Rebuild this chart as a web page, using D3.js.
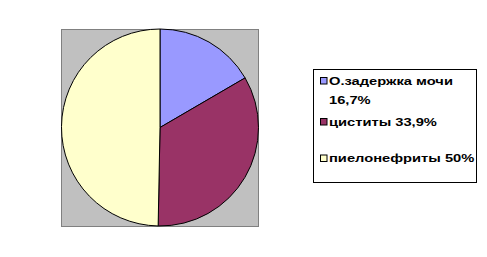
<!DOCTYPE html>
<html><head><meta charset="utf-8">
<script src="https://cdn.jsdelivr.net/npm/d3@7"></script>
<style>body{margin:0;background:#fff}svg{display:block}</style>
</head><body>
<svg id="c" width="487" height="257"></svg>
<script>
const categories = ["О.задержка мочи", "циститы", "пиелонефриты"];
const labelLines = [["О.задержка мочи", "16,7%"], ["циститы 33,9%"], ["пиелонефриты 50%"]];
const values = [16.7, 33.9, 50];
const colors = ["#9999FF", "#993366", "#FFFFCC"];

const svg = d3.select("#c");
// plot area
svg.append("rect").attr("x", 61.5).attr("y", 29.5).attr("width", 197).attr("height", 197)
  .attr("fill", "#C0C0C0").attr("stroke", "#808080").attr("stroke-width", 1);

const cx = 160, cy = 127.5, r = 98.5;
const pie = d3.pie().sort(null).value(d => d)(values);
const arc = d3.arc().innerRadius(0).outerRadius(r);
svg.append("g").attr("transform", `translate(${cx},${cy})`)
  .selectAll("path").data(pie).join("path")
  .attr("d", arc).attr("fill", (d, i) => colors[i])
  .attr("stroke", "#000").attr("stroke-width", 1).attr("stroke-linejoin", "round");

// legend
svg.append("rect").attr("x", 313.5).attr("y", 69.5).attr("width", 163).attr("height", 113)
  .attr("fill", "#fff").attr("stroke", "#000").attr("stroke-width", 1);

const baselines = [84.5, 125.5, 162];
const lineGap = 19;
const lg = svg.append("g");
categories.forEach((c, i) => {
  const g = lg.append("g");
  g.append("rect").attr("x", 320.5).attr("y", baselines[i] - 7).attr("width", 6.5).attr("height", 6.5)
    .attr("fill", colors[i]).attr("stroke", "#000").attr("stroke-width", 1);
  labelLines[i].forEach((t, j) => {
    g.append("text")
      .attr("transform", `translate(${329},${baselines[i] + j * lineGap}) scale(1.47,1)`)
      .attr("font-family", "'Liberation Sans', Arial, sans-serif")
      .attr("font-weight", "bold").attr("font-size", 10).attr("fill", "#000")
      .text(t);
  });
});
</script>
</body></html>
